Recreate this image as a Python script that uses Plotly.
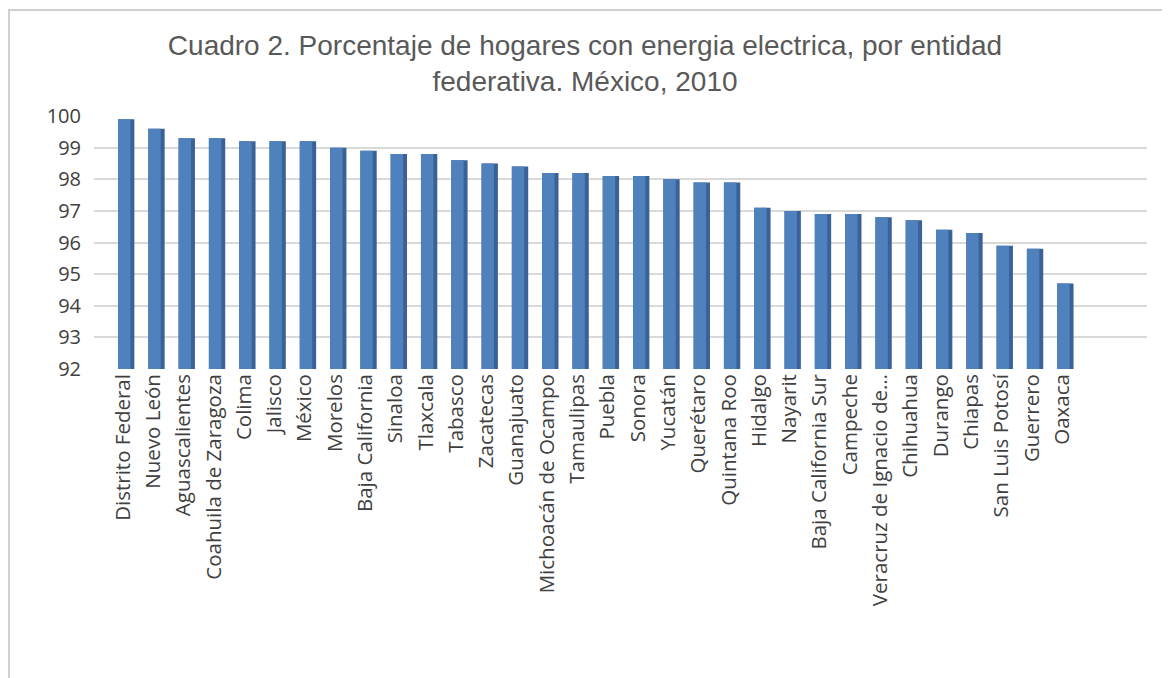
import plotly.graph_objects as go

estados = [
    "Distrito Federal", "Nuevo León", "Aguascalientes", "Coahuila de Zaragoza",
    "Colima", "Jalisco", "México", "Morelos", "Baja California", "Sinaloa",
    "Tlaxcala", "Tabasco", "Zacatecas", "Guanajuato", "Michoacán de Ocampo",
    "Tamaulipas", "Puebla", "Sonora", "Yucatán", "Querétaro", "Quintana Roo",
    "Hidalgo", "Nayarit", "Baja California Sur", "Campeche",
    "Veracruz de Ignacio de…", "Chihuahua", "Durango", "Chiapas",
    "San Luis Potosí", "Guerrero", "Oaxaca",
]
porcentaje = [
    99.9, 99.6, 99.3, 99.3, 99.2, 99.2, 99.2, 99.0, 98.9, 98.8,
    98.8, 98.6, 98.5, 98.4, 98.2, 98.2, 98.1, 98.1, 98.0, 97.9, 97.9,
    97.1, 97.0, 96.9, 96.9, 96.8, 96.7, 96.4, 96.3, 95.9, 95.8, 94.7,
]
y_ticks = [92, 93, 94, 95, 96, 97, 98, 99, 100]
titulo = "Cuadro 2. Porcentaje de hogares con energia electrica, por entidad<br>federativa. México, 2010"

fig = go.Figure()
# darker side face (3D look)
fig.add_trace(go.Bar(
    x=estados, y=porcentaje, base=0, width=0.54, offset=-0.165,
    marker=dict(color="#3A6298", line=dict(width=0)),
    hoverinfo="skip",
))
# front face
fig.add_trace(go.Bar(
    x=estados, y=porcentaje, base=0, width=0.41, offset=-0.165,
    marker=dict(color="#4F81BD", line=dict(width=0)),
))

W, H = 1170, 678
ml, mr, mt, mb = 86, 31, 108, 317
pw, ph = W - ml - mr, H - mt - mb

fig.update_layout(
    width=W, height=H,
    margin=dict(l=ml, r=mr, t=mt, b=mb),
    paper_bgcolor="white", plot_bgcolor="white",
    showlegend=False, barmode="overlay",
    title=dict(text=titulo, x=577 / W, xref="container", xanchor="center",
               y=1 - 47 / H, yanchor="middle",
               font=dict(family="Liberation Sans, Arial", size=28, color="#595959")),
    xaxis=dict(type="category", range=[-0.957, 33.8], tickangle=-90,
               showgrid=False, showline=False, ticks="",
               tickfont=dict(family="Open Sans", size=20.5, color="#404040")),
    yaxis=dict(range=[92, 100], tickvals=y_ticks, showgrid=True,
               gridcolor="#D9D9D9", gridwidth=2, zeroline=False,
               showline=False, ticks="", ticklabelstandoff=12,
               tickfont=dict(family="Open Sans", size=20, color="#404040")),
    shapes=[dict(type="rect", xref="paper", yref="paper",
                 x0=(1 - ml) / pw, x1=(W + 3 - ml) / pw,
                 y0=(H - mb - H - 3) / ph, y1=(H - mb - 2) / ph,
                 line=dict(color="#D0D0D0", width=2), layer="below")],
)

fig.write_html("out.html")
